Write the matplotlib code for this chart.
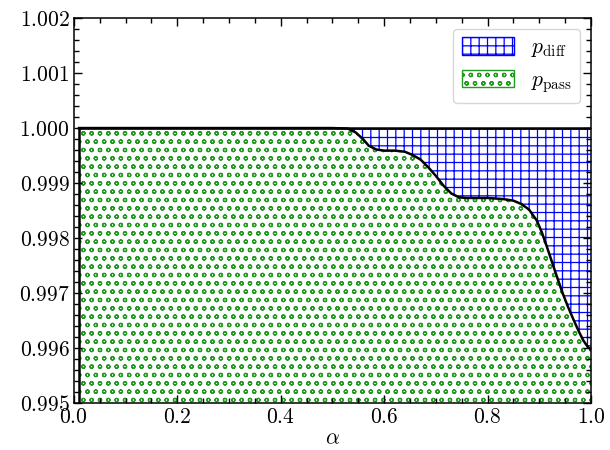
import numpy as np
import matplotlib
matplotlib.use("Agg")
import matplotlib.pyplot as plt
from matplotlib.patches import Patch
from matplotlib.ticker import FormatStrFormatter, MultipleLocator

# Estilo tipo LaTeX
plt.rcParams['font.family'] = 'serif'
plt.rcParams['font.serif'] = ['cmr10']
plt.rcParams['mathtext.fontset'] = 'cm'
plt.rcParams['axes.formatter.use_mathtext'] = True
plt.rcParams['font.size'] = 15.5
plt.rcParams['hatch.linewidth'] = 0.9

# Datos
alpha = [0.01, 0.10, 0.20, 0.30, 0.40, 0.50, 0.53, 0.545, 0.56, 0.57,
         0.585, 0.60, 0.62, 0.64, 0.655, 0.67, 0.685, 0.70, 0.715, 0.73,
         0.745, 0.76, 0.80, 0.83, 0.85, 0.865, 0.88, 0.895, 0.905, 0.915,
         0.925, 0.935, 0.945, 0.955, 0.965, 0.975, 0.985, 0.993, 1.00]
p_pass = [1.0, 1.0, 1.0, 1.0, 1.0, 1.0, 0.99999, 0.99992, 0.99979, 0.99968,
          0.99961, 0.99959, 0.99959, 0.99957, 0.99951, 0.99943, 0.99929, 0.99913, 0.99895, 0.99881,
          0.99874, 0.99873, 0.99873, 0.99871, 0.99868, 0.99862, 0.99852, 0.99832, 0.99810, 0.99783,
          0.99755, 0.99727, 0.99700, 0.99676, 0.99654, 0.99633, 0.99614, 0.99603, 0.99597]
p_total = [1.0] * len(alpha)
y_floor = 0.99

blue = '#0000ff'
green = '#229a22'

fig = plt.figure(figsize=(6.1, 4.5), dpi=100)
ax = fig.add_axes([0.121, 0.104, 0.848, 0.856])

ax.fill_between(alpha, p_pass, p_total, facecolor='none', edgecolor=blue,
                hatch='++', linewidth=0)
ax.fill_between(alpha, y_floor, p_pass, facecolor='none', edgecolor=green,
                hatch='oo', linewidth=0)

ax.plot(alpha, p_pass, color='k', lw=1.8)
ax.plot(alpha, p_total, color='k', lw=1.8)
ax.plot([alpha[0], alpha[0]], [y_floor, p_total[0]], color='k', lw=1.8)

ax.set_xlim(0, 1)
ax.set_ylim(0.995, 1.002)
ax.set_xlabel(r'$\alpha$', labelpad=1)

ax.xaxis.set_major_locator(MultipleLocator(0.2))
ax.xaxis.set_minor_locator(MultipleLocator(0.05))
ax.yaxis.set_major_locator(MultipleLocator(0.001))
ax.yaxis.set_minor_locator(MultipleLocator(0.0002))
ax.xaxis.set_major_formatter(FormatStrFormatter(r'$%.1f$'))
ax.yaxis.set_major_formatter(FormatStrFormatter(r'$%.3f$'))
ax.tick_params(which='both', direction='in', top=True, right=True, width=1.0)
ax.tick_params(which='major', length=6, pad=3)
ax.tick_params(which='minor', length=3.5)
for s in ax.spines.values():
    s.set_linewidth(1.1)

handles = [Patch(facecolor='white', edgecolor=blue, hatch='++', label=r'$p_\mathrm{diff}$'),
           Patch(facecolor='white', edgecolor=green, hatch='oo', label=r'$p_\mathrm{pass}$')]
ax.legend(handles=handles, loc='upper right', handlelength=2.4, handleheight=0.85,
          fancybox=True, edgecolor='0.8')

fig.savefig('out.png', dpi=100)
